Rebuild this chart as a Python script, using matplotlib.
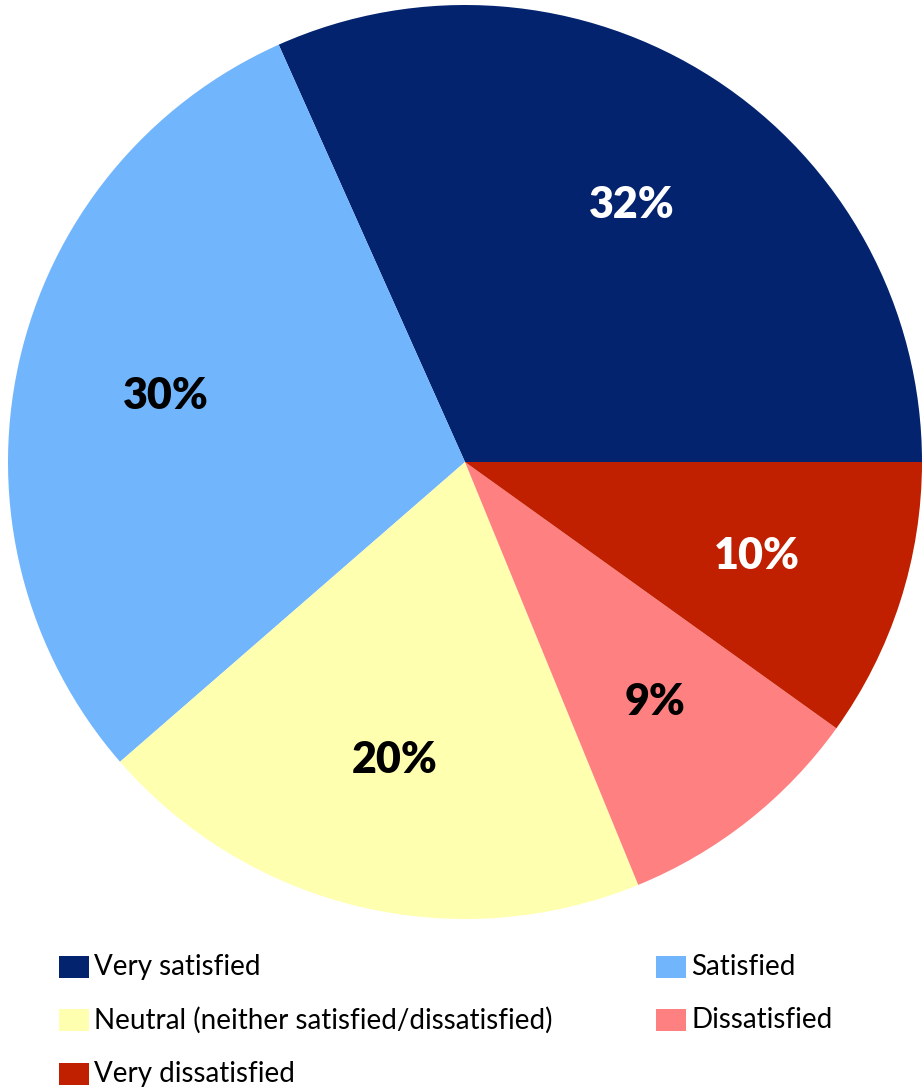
import matplotlib
matplotlib.use("Agg")
import matplotlib.pyplot as plt
from matplotlib.patches import Rectangle

categories = ["Very satisfied", "Satisfied", "Neutral (neither satisfied/dissatisfied)",
              "Dissatisfied", "Very dissatisfied"]
values = [32, 30, 20, 9, 10]
pct_labels = ["32%", "30%", "20%", "9%", "10%"]
colors = ["#03236F", "#71B5FD", "#FFFFB0", "#FF8080", "#C02000"]
label_colors = ["white", "black", "black", "black", "white"]

W, H = 924, 1091
fig = plt.figure(figsize=(W / 100, H / 100), dpi=100)
cx, cy, r = 465, 462, 457
ax = fig.add_axes([(cx - r) / W, (H - cy - r) / H, 2 * r / W, 2 * r / H])

wedges, texts = ax.pie(values, colors=colors, startangle=0, counterclock=True,
                       radius=1, labels=pct_labels, labeldistance=0.67,
                       wedgeprops=dict(linewidth=0))
for t, c in zip(texts, label_colors):
    t.set_color(c)
    t.set_fontsize(31)
    t.set_fontweight("heavy")
    t.set_fontfamily("Lato")
    t.set_ha("center")
    t.set_va("center")
ax.set_xlim(-1, 1)
ax.set_ylim(-1, 1)
ax.set_aspect("equal")
ax.axis("off")

# legend, row-major as in the reference
col_x = [59, 656]
row_y = [967, 1020, 1074]
for i, (cat, col) in enumerate(zip(categories, colors)):
    rr, cc = divmod(i, 2)
    x0 = col_x[cc]
    yc = row_y[rr]
    fig.patches.append(Rectangle((x0 / W, (H - yc - 11) / H), 30 / W, 22 / H,
                                 transform=fig.transFigure, facecolor=col,
                                 edgecolor="none"))
    fig.text((x0 + 35) / W, (H - yc) / H, cat, fontsize=20, family="Lato",
             va="center", ha="left", color="black")

fig.savefig("out.png", dpi=100)
